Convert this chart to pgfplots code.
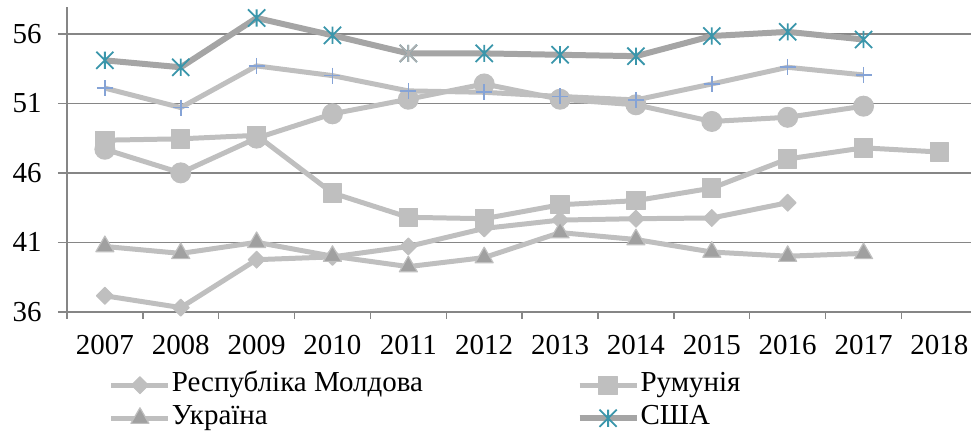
\documentclass[border=0pt]{standalone}
\usepackage{pgfplots}
\pgfplotsset{compat=1.18}
\usepackage{fontspec}
\setmainfont{Liberation Serif}
\definecolor{lg}{RGB}{191,191,191}
\definecolor{mg}{RGB}{165,165,165}
\definecolor{tri}{RGB}{160,160,160}
\definecolor{teal}{RGB}{58,150,171}
\definecolor{pblue}{RGB}{133,163,214}
\definecolor{grid}{RGB}{134,134,134}
\pgfdeclareplotmark{xstar}{%
  \pgfpathmoveto{\pgfqpoint{0pt}{-\pgfplotmarksize}}%
  \pgfpathlineto{\pgfqpoint{0pt}{\pgfplotmarksize}}%
  \pgfpathmoveto{\pgfqpoint{-\pgfplotmarksize}{-\pgfplotmarksize}}%
  \pgfpathlineto{\pgfqpoint{\pgfplotmarksize}{\pgfplotmarksize}}%
  \pgfpathmoveto{\pgfqpoint{-\pgfplotmarksize}{\pgfplotmarksize}}%
  \pgfpathlineto{\pgfqpoint{\pgfplotmarksize}{-\pgfplotmarksize}}%
  \pgfusepathqstroke}
\newcommand{\fs}{\fontsize{14.5}{17}\selectfont}
\begin{document}
\begin{tikzpicture}
\begin{axis}[name=ax,
  scale only axis, width=452.5pt, height=152.5pt,
  xmin=-0.5, xmax=11.42, ymin=36, ymax=57.94,
  axis x line*=bottom, axis y line*=left,
  axis line style={draw=grid, line width=0.75pt, -},
  xtick={0,...,11},
  xticklabels={2007,2008,2009,2010,2011,2012,2013,2014,2015,2016,2017,2018},
  xtick style={draw=none},
  extra x ticks={-0.5,0.5,...,10.5},
  extra x tick labels={},
  extra x tick style={xtick style={draw=grid, line width=0.75pt}, major tick length=3.5pt, grid=none},
  ytick={36,41,46,51,56},
  ytick style={draw=grid, line width=0.75pt},
  tick align=outside, major tick length=4.5pt,
  ymajorgrids, grid style={draw=grid, line width=0.75pt},
  /pgf/number format/assume math mode=true,
  tick label style={font=\fs, inner sep=0pt},
  yticklabel style={xshift=-8pt},
  xticklabel style={yshift=-7pt},
  clip=false,
  legend columns=2,
  legend style={at={(0.0465,-0.1967)}, anchor=north west, draw=none, fill=none,
    inner sep=0pt, outer sep=0pt, column sep=0.5pt, row sep=3pt,
    font=\fs, nodes={inner sep=0pt, text height=10pt, text depth=3.5pt}},
  legend cell align=left,
  legend image code/.code={\draw[mark repeat=2,mark phase=2] plot coordinates {(0pt,0pt) (14.25pt,0pt) (28.5pt,0pt)};},
  every axis plot/.append style={line width=2.5pt, line join=round},
]
% Республіка Молдова
\addplot[color=lg, mark=square*, mark size=3pt, mark options={rotate=45, fill=lg, draw=lg, line width=0.5pt}]
  coordinates {(0,37.15)(1,36.3)(2,39.75)(3,39.95)(4,40.7)(5,42.0)(6,42.6)(7,42.7)(8,42.75)(9,43.85)};
\addlegendentry{\makebox[202pt][l]{Республіка Молдова}}
% Румунія
\addplot[color=lg, mark=square*, mark size=4.6pt, mark options={fill=lg, draw=lg, line width=0.5pt}]
  coordinates {(0,48.35)(1,48.45)(2,48.7)(3,44.55)(4,42.8)(5,42.7)(6,43.7)(7,44.0)(8,44.9)(9,47.0)(10,47.8)(11,47.5)};
\addlegendentry{Румунія}
% Україна
\addplot[color=lg, mark=triangle*, mark size=5.2pt, mark options={fill=tri, draw=lg, line width=0.6pt}]
  coordinates {(0,40.7)(1,40.2)(2,41.0)(3,40.0)(4,39.25)(5,39.9)(6,41.7)(7,41.2)(8,40.3)(9,40.0)(10,40.2)};
\addlegendentry{\makebox[202pt][l]{Україна}}
% США
\addplot[color=mg, line width=3pt, mark=xstar, mark size=4.3pt, mark options={draw=teal, line width=0.9pt}]
  coordinates {(0,54.1)(1,53.6)(2,57.15)(3,55.9)(4,54.6)(5,54.6)(6,54.5)(7,54.4)(8,55.85)(9,56.15)(10,55.6)};
\addlegendentry{США}
\addplot[forget plot, draw=none, mark=xstar, mark size=4.3pt, mark options={draw=mg!90!white, line width=0.9pt}]
  coordinates {(4,54.6)};
% unlabeled circle series
\addplot[forget plot, color=lg, mark=*, mark size=5pt, mark options={fill=lg, draw=lg, line width=0.5pt}]
  coordinates {(0,47.7)(1,46.0)(2,48.5)(3,50.25)(4,51.3)(5,52.4)(6,51.3)(7,50.9)(8,49.7)(9,50.0)(10,50.8)};
% unlabeled plus series
\addplot[forget plot, color=lg, mark=+, mark size=4pt, mark options={draw=pblue, line width=0.8pt}]
  coordinates {(0,52.1)(1,50.7)(2,53.7)(3,53.0)(4,51.9)(5,51.8)(6,51.5)(7,51.25)(8,52.4)(9,53.6)(10,53.05)};
\end{axis}
\path ([xshift=-33.5pt,yshift=-59pt]ax.south west) rectangle ([yshift=3.5pt]ax.north east);
\end{tikzpicture}
\end{document}
